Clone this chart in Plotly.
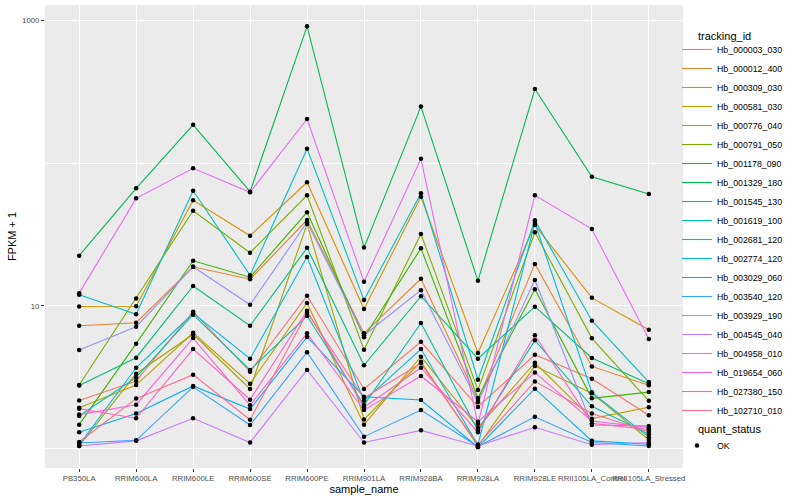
import plotly.graph_objects as go

sample_name = ["PB350LA", "RRIM600LA", "RRIM600LE", "RRIM600SE", "RRIM600PE", "RRIM901LA",
               "RRIM928BA", "RRIM928LA", "RRIM928LE", "RRII105LA_Control", "RRII105LA_Stressed"]

tracking_id = ["Hb_000003_030", "Hb_000012_400", "Hb_000309_030", "Hb_000581_030", "Hb_000776_040",
               "Hb_000791_050", "Hb_001178_090", "Hb_001329_180", "Hb_001545_130", "Hb_001619_100",
               "Hb_002681_120", "Hb_002774_120", "Hb_003029_060", "Hb_003540_120", "Hb_003929_190",
               "Hb_004545_040", "Hb_004958_010", "Hb_019654_060", "Hb_027380_150", "Hb_102710_010"]

line_colors = ["#F8766D", "#EA8331", "#D89000", "#C09B00", "#A3A500", "#7CAE00", "#39B600", "#00BB4E",
               "#00BF7D", "#00C1A3", "#00BFC4", "#00BAE0", "#00B0F6", "#35A2FF", "#9590FF", "#C77CFF",
               "#E76BF3", "#FA62DB", "#FF62BC", "#FF6C91"]

# FPKM + 1 values, one list per tracking_id, in sample_name order
hb_000003_030 = [2.18, 2.99, 9.12, 3.47, 11.8, 2.63, 5.62, 1.97, 4.56, 3.10, 1.72]
hb_000012_400 = [7.28, 7.64, 18.8, 15.4, 39.9, 6.44, 15.5, 2.20, 19.7, 3.78, 2.79]
hb_000309_030 = [9.92, 9.95, 54.8, 31.0, 73.3, 9.53, 58.1, 4.69, 36.8, 11.4, 6.83]
hb_000581_030 = [1.94, 2.80, 6.50, 2.86, 10.5, 1.48, 4.42, 1.41, 4.01, 1.63, 1.96]
hb_000776_040 = [1.05, 3.36, 6.34, 2.63, 37.4, 1.61, 4.07, 1.05, 3.80, 2.45, 1.16]
hb_000791_050 = [2.80, 11.3, 46.4, 23.6, 59.4, 4.94, 31.9, 2.59, 32.8, 5.94, 2.17]
hb_001178_090 = [1.48, 5.45, 20.7, 15.9, 45.2, 6.04, 25.3, 2.27, 13.1, 2.26, 2.50]
hb_001329_180 = [22.5, 66.5, 185.0, 63.0, 903.0, 25.6, 248.0, 15.0, 329.0, 80.2, 60.7]
hb_001545_130 = [2.78, 4.35, 13.8, 7.28, 25.5, 3.85, 11.7, 4.28, 9.89, 4.33, 2.86]
hb_001619_100 = [1.70, 3.17, 8.69, 3.57, 8.51, 2.03, 7.60, 1.35, 5.75, 1.99, 1.27]
hb_002681_120 = [12.0, 8.75, 64.0, 16.4, 126.0, 11.0, 61.4, 3.05, 39.7, 7.89, 2.94]
hb_002774_120 = [1.07, 3.70, 8.89, 4.28, 22.0, 2.17, 5.00, 1.07, 38.2, 2.49, 1.21]
hb_003029_060 = [1.31, 1.77, 2.76, 1.90, 6.07, 2.32, 2.20, 1.03, 2.64, 1.14, 1.08]
hb_003540_120 = [1.10, 1.15, 2.72, 1.47, 4.75, 1.22, 1.87, 1.04, 1.68, 1.11, 1.05]
hb_003929_190 = [4.92, 7.16, 18.8, 10.2, 38.5, 6.24, 12.9, 2.12, 15.2, 1.47, 1.45]
hb_004545_040 = [1.05, 1.14, 1.64, 1.11, 3.57, 1.11, 1.35, 1.05, 1.42, 1.07, 1.11]
hb_004958_010 = [12.3, 56.6, 91.8, 62.4, 203.0, 14.8, 107.0, 1.50, 59.4, 34.5, 5.88]
hb_019654_060 = [1.74, 2.04, 5.97, 2.02, 6.44, 1.87, 3.24, 1.55, 3.42, 1.57, 1.41]
hb_027380_150 = [1.91, 1.64, 5.00, 2.21, 9.27, 1.96, 3.70, 1.31, 6.24, 1.51, 1.37]
hb_102710_010 = [1.12, 2.25, 3.31, 1.60, 8.98, 2.27, 3.97, 1.07, 2.97, 1.77, 1.32]

series = [hb_000003_030, hb_000012_400, hb_000309_030, hb_000581_030, hb_000776_040,
          hb_000791_050, hb_001178_090, hb_001329_180, hb_001545_130, hb_001619_100,
          hb_002681_120, hb_002774_120, hb_003029_060, hb_003540_120, hb_003929_190,
          hb_004545_040, hb_004958_010, hb_019654_060, hb_027380_150, hb_102710_010]

y_tick_vals = [10, 1000]
y_tick_text = ["10", "1000"]
y_minor_vals = [1, 100]

FONT = "Liberation Sans, Arial, Helvetica, sans-serif"

# plot-area geometry (pixels) used to place legend blocks
L, R, T, B = 45, 683, 5, 468
W, H = R - L, B - T


def px_x(px):
    return (px - L) / W


def px_y(py):
    return 1 - (py - T) / H


fig = go.Figure()
for name, vals, col in zip(tracking_id, series, line_colors):
    fig.add_trace(go.Scatter(x=sample_name, y=vals, mode="lines", name=name,
                             line=dict(color=col, width=1.1), legend="legend"))

pts_x = [s for vals in series for s in sample_name]
pts_y = [v for vals in series for v in vals]
fig.add_trace(go.Scatter(x=pts_x, y=pts_y, mode="markers", name="OK",
                         marker=dict(color="black", size=4.5), legend="legend2"))

fig.update_layout(
    width=800, height=500,
    margin=dict(l=L, r=800 - R, t=T, b=500 - B, autoexpand=False),
    paper_bgcolor="white", plot_bgcolor="#EBEBEB",
    font=dict(family=FONT, size=11, color="black"),
    showlegend=True,
    xaxis=dict(type="category", categoryorder="array", categoryarray=sample_name,
               range=[-0.6, 10.6], tickmode="array", tickvals=sample_name, tickangle=0,
               ticks="outside", ticklen=3, tickwidth=1, tickcolor="#333333",
               tickfont=dict(size=7.8, color="#4D4D4D"), automargin=False,
               showgrid=True, gridcolor="white", gridwidth=1.1, zeroline=False, showline=False,
               title=dict(text="sample_name", font=dict(size=11), standoff=2)),
    yaxis=dict(type="log", range=[-0.133, 3.105], tickmode="array",
               tickvals=y_tick_vals, ticktext=y_tick_text, automargin=False,
               ticks="outside", ticklen=3, tickwidth=1, tickcolor="#333333",
               tickfont=dict(size=7.8, color="#4D4D4D"),
               showgrid=True, gridcolor="white", gridwidth=1.1, zeroline=False, showline=False,
               minor=dict(tickmode="array", tickvals=y_minor_vals, showgrid=True,
                          gridcolor="white", gridwidth=0.55, ticks=""),
               title=dict(text="FPKM + 1", font=dict(size=11), standoff=3)),
    legend=dict(x=px_x(677), xanchor="left", y=px_y(35), yanchor="top",
                font=dict(size=8.8, color="black"), itemwidth=30, bgcolor="rgba(0,0,0,0)",
                tracegroupgap=0),
    legend2=dict(x=px_x(677), xanchor="left", y=px_y(431), yanchor="top",
                 font=dict(size=8.8, color="black"), itemwidth=30, bgcolor="rgba(0,0,0,0)"),
    annotations=[
        dict(text="tracking_id", xref="paper", yref="paper", x=px_x(696),
             y=px_y(36), xanchor="left", yanchor="middle", showarrow=False,
             font=dict(size=11, color="black")),
        dict(text="quant_status", xref="paper", yref="paper", x=px_x(696),
             y=px_y(429), xanchor="left", yanchor="middle", showarrow=False,
             font=dict(size=11, color="black")),
    ],
)

fig.write_html("out.html", config={"displayModeBar": False},
               post_script="document.body.style.margin='0px';")
